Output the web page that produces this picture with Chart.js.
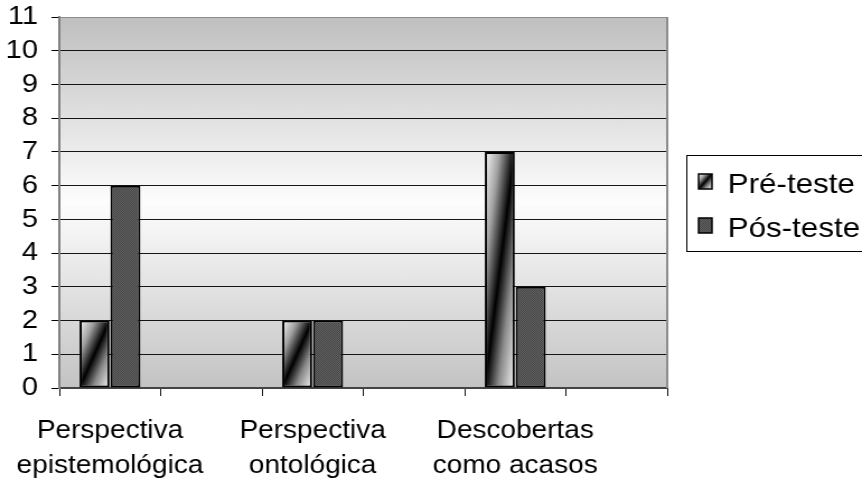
<!DOCTYPE html>
<html>
<head>
<meta charset="utf-8">
<title>Pré-teste / Pós-teste</title>
<script src="https://cdn.jsdelivr.net/npm/chart.js@4/dist/chart.umd.min.js"></script>
<style>
    body { margin: 0; background: #fff; }
</style>
</head>
<body>
<!-- canvas is drawn at 770 wide and shown at 862, so text comes out a bit wider -->
<canvas id="chartCanvas" width="770" height="481" style="width:862px;height:481px"></canvas>
<script>
// categories (the blank ones are the spacer slots between groups)
const categories = [
    ['Perspectiva', 'epistemológica'], '',
    ['Perspectiva', 'ontológica'], '',
    ['Descobertas', 'como acasos'], ''
];
const seriesNames = ['Pré-teste', 'Pós-teste'];
const preTeste = [2, null, 2, null, 7, null];
const posTeste = [6, null, 2, null, 3, null];
const yTicks = [0, 1, 2, 3, 4, 5, 6, 7, 8, 9, 10, 11];

const FONT = "'Liberation Sans', Arial, sans-serif";
const canvas = document.getElementById('chartCanvas');
const ctx = canvas.getContext('2d');

// dark dotted fill for the second series
const dots = document.createElement('canvas');
dots.width = 2; dots.height = 2;
const dctx = dots.getContext('2d');
dctx.fillStyle = '#464646'; dctx.fillRect(0, 0, 2, 2);
dctx.fillStyle = '#626262'; dctx.fillRect(0, 0, 1, 1); dctx.fillRect(1, 1, 1, 1);
const dotPattern = ctx.createPattern(dots, 'repeat');

// diagonal light-dark-light gradient, stretched to the box like a shape fill
function diagonalFill(x0, y0, w, h) {
    const L = Math.hypot(w, h);
    const ext = w * h / L;
    const cx = x0 + w / 2, cy = y0 + h / 2;
    const dx = h / L * ext, dy = w / L * ext;
    const g = ctx.createLinearGradient(cx - dx, cy - dy, cx + dx, cy + dy);
    g.addColorStop(0, '#fbfbfb');
    g.addColorStop(0.25, '#a0a0a0');
    g.addColorStop(0.5, '#000000');
    g.addColorStop(0.72, '#8a8a8a');
    g.addColorStop(1, '#f6f6f6');
    return g;
}

const plotBackground = {
    id: 'plotBackground',
    beforeDraw(chart) {
        const a = chart.chartArea;
        const c = chart.ctx;
        const g = c.createLinearGradient(0, a.top, 0, a.bottom);
        g.addColorStop(0, '#bfbfbf');
        g.addColorStop(0.5, '#fdfdfd');
        g.addColorStop(1, '#c3c3c3');
        c.save();
        c.fillStyle = g;
        c.fillRect(a.left, a.top, a.right - a.left, a.bottom - a.top);
        c.restore();
    },
    afterDraw(chart) {
        const a = chart.chartArea;
        const c = chart.ctx;
        c.save();
        // right edge of the plot area
        c.strokeStyle = '#8c8c8c';
        c.lineWidth = 2;
        c.beginPath();
        c.moveTo(a.right, a.top);
        c.lineTo(a.right, a.bottom);
        c.stroke();

        // legend box (runs off the right edge)
        c.strokeStyle = '#000';
        c.lineWidth = 1;
        c.strokeRect(613.5, 155.5, 200, 96);
        c.font = '28px ' + FONT;
        c.fillStyle = '#000';
        c.textBaseline = 'alphabetic';
        const rows = [193, 237];
        chart.data.datasets.forEach((ds, i) => {
            const y = rows[i];
            const bx = 624, by = y - 19, bw = 12, bh = 15;
            c.fillStyle = i === 0 ? diagonalFill(bx, by, bw, bh) : dotPattern;
            c.fillRect(bx, by, bw, bh);
            c.strokeStyle = '#000';
            c.lineWidth = 1.5;
            c.strokeRect(bx, by, bw, bh);
            c.fillStyle = '#000';
            c.fillText(ds.label, 650, y);
        });
        c.restore();
    }
};

const config = {
    type: 'bar',
    data: {
        labels: categories,
        datasets: [
            {
                label: seriesNames[0],
                data: preTeste,
                backgroundColor: '#cccccc',
                borderColor: '#000',
                borderWidth: 2,
                borderSkipped: false
            },
            {
                label: seriesNames[1],
                data: posTeste,
                backgroundColor: dotPattern,
                borderColor: '#000',
                borderWidth: 2,
                borderSkipped: false
            }
        ]
    },
    options: {
        responsive: false,
        animation: false,
        devicePixelRatio: 1,
        layout: { padding: { left: 0, top: 17, right: 174, bottom: 0 } },
        datasets: {
            bar: { categoryPercentage: 0.61, barPercentage: 0.97 }
        },
        plugins: {
            legend: { display: false },
            tooltip: { enabled: false }
        },
        scales: {
            x: {
                grid: {
                    offset: true,
                    drawOnChartArea: false,
                    drawTicks: true,
                    tickLength: 8,
                    color: '#111'
                },
                border: { color: '#444', width: 2 },
                ticks: {
                    color: '#000',
                    font: { family: FONT, size: 25, lineHeight: 1.42 },
                    padding: 17,
                    maxRotation: 0,
                    autoSkip: false
                },
                afterFit(scale) {
                    scale.height = 93;
                    scale.paddingLeft = 0;
                    scale.paddingRight = 0;
                }
            },
            y: {
                min: yTicks[0],
                max: yTicks[yTicks.length - 1],
                afterBuildTicks(scale) {
                    scale.ticks = yTicks.map(v => ({ value: v }));
                },
                grid: {
                    color: c => (c.tick && c.tick.value === 11 ? '#8c8c8c' : '#151515'),
                    tickColor: '#000',
                    tickLength: 7,
                    lineWidth: 1
                },
                border: { color: '#808080', width: 2 },
                ticks: {
                    color: '#000',
                    font: { family: FONT, size: 26 },
                    padding: 12,
                    autoSkip: false
                },
                afterFit(scale) {
                    scale.width = 53;
                    scale.paddingTop = 0;
                    scale.paddingBottom = 0;
                }
            }
        }
    },
    plugins: [plotBackground]
};

const chart = new Chart(ctx, config);

// once the bars have their sizes, give each first-series bar its own diagonal gradient
const meta = chart.getDatasetMeta(0);
chart.data.datasets[0].backgroundColor = meta.data.map(bar => {
    const p = bar.getProps(['x', 'y', 'base', 'width']);
    if (!p.width || p.y === undefined || isNaN(p.y)) return '#cccccc';
    const top = Math.min(p.y, p.base);
    return diagonalFill(p.x - p.width / 2, top, p.width, Math.abs(p.base - p.y));
});
chart.update('none');
</script>
</body>
</html>
